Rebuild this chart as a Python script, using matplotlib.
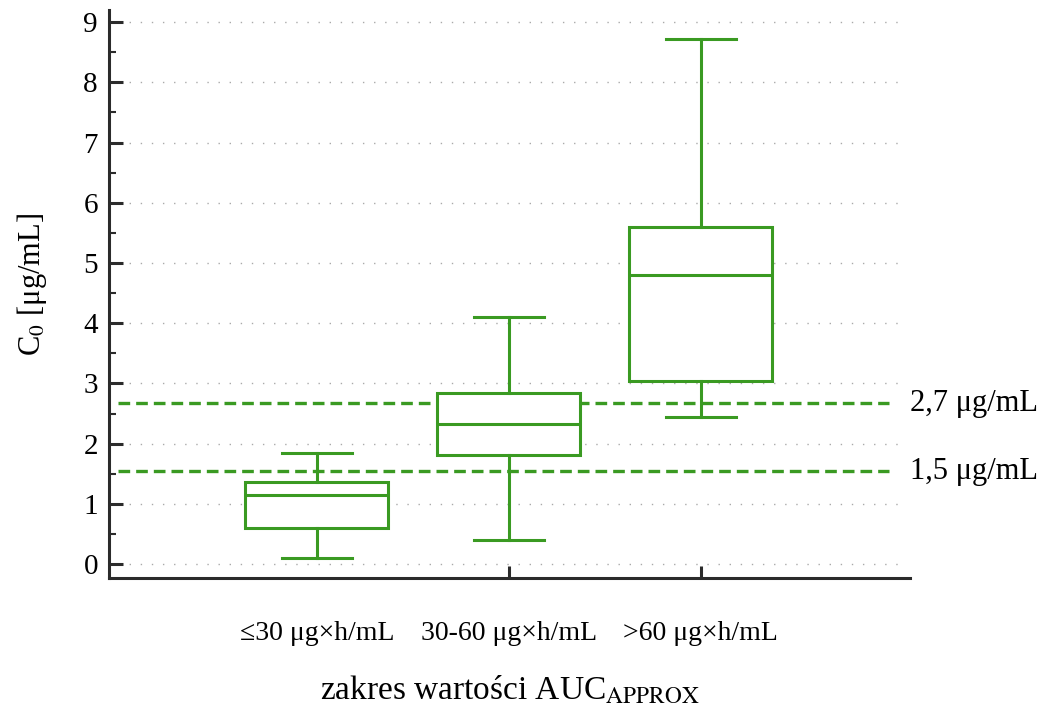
import matplotlib
matplotlib.use("Agg")
import matplotlib.pyplot as plt

# ---- data ----
categories = ["≤30 μg×h/mL", "30-60 μg×h/mL", ">60 μg×h/mL"]
whisker_low = [0.10, 0.40, 2.44]
q1 = [0.60, 1.81, 3.04]
median = [1.15, 2.33, 4.80]
q3 = [1.36, 2.84, 5.60]
whisker_high = [1.84, 4.10, 8.72]
ref_values = [2.67, 1.54]
ref_labels = ["2,7 μg/mL", "1,5 μg/mL"]
yticks = list(range(0, 10))

GREEN = "#3a9a22"
DARK = "#2b2b2b"

plt.rcParams["font.family"] = ["Liberation Serif", "DejaVu Serif"]
plt.rcParams["mathtext.fontset"] = "stix"

fig = plt.figure(figsize=(10.5, 7.13), dpi=100)
W, H = 1050, 713
L, R, B, T = 109, 910, 578, 10
ax = fig.add_axes([L / W, 1 - B / H, (R - L) / W, (B - T) / H])

positions = [1, 2, 3]
stats = []
for i in range(len(categories)):
    stats.append(dict(whislo=whisker_low[i], q1=q1[i], med=median[i],
                      q3=q3[i], whishi=whisker_high[i], fliers=[]))

ax.bxp(stats, positions=positions, widths=0.745, capwidths=0.365,
       patch_artist=True, showfliers=False,
       boxprops=dict(facecolor="white", edgecolor=GREEN, linewidth=2.2),
       medianprops=dict(color=GREEN, linewidth=2.2),
       whiskerprops=dict(color=GREEN, linewidth=2.2),
       capprops=dict(color=GREEN, linewidth=2.2),
       zorder=3)

# reference dashed lines
for v, lab in zip(ref_values, ref_labels):
    ax.plot([-0.036, 3.98], [v, v], color=GREEN, linewidth=2.4,
            linestyle=(0, (3.5, 1.8)), zorder=2, dash_capstyle="butt")
    ax.text(4.09, v, lab, fontsize=22, va="center", ha="left", clip_on=False)

# gridlines
for yv in yticks:
    ax.plot([-0.036, 4.07], [yv, yv], color="#aaaaaa", linewidth=1.0,
            linestyle=(0, (1, 7)), zorder=1)

ax.set_xlim(-0.083, 4.09)
ax.set_ylim(-0.23, 9.2)

ax.set_yticks(yticks)
ax.set_yticks([v + 0.5 for v in yticks[:-1]], minor=True)
ax.tick_params(axis="y", which="major", direction="in", length=10, width=2.2,
               color=DARK, labelsize=21, pad=8)
ax.tick_params(axis="y", which="minor", direction="in", length=5, width=1.5,
               color=DARK)

ax.set_xticks(positions)
ax.set_xticklabels(categories)
ax.tick_params(axis="x", which="major", direction="in", length=9, width=2.2,
               color=DARK, labelsize=20, pad=31)
ax.xaxis.get_major_ticks()[0].tick1line.set_visible(False)

for s in ["top", "right"]:
    ax.spines[s].set_visible(False)
for s in ["left", "bottom"]:
    ax.spines[s].set_linewidth(2.2)
    ax.spines[s].set_color(DARK)

ax.set_ylabel(r"C$_0$ [μg/mL]", fontsize=22)
ax.yaxis.set_label_coords(-0.096, 0.516)
ax.yaxis.label.set_va("center")

ax.set_xlabel(r"zakres wartości AUC$_{\mathrm{APPROX}}$", fontsize=24)
ax.xaxis.set_label_coords(0.5, -(690 - B) / (B - T))
ax.xaxis.label.set_va("center")

fig.savefig("out.png", dpi=100, facecolor="white")
